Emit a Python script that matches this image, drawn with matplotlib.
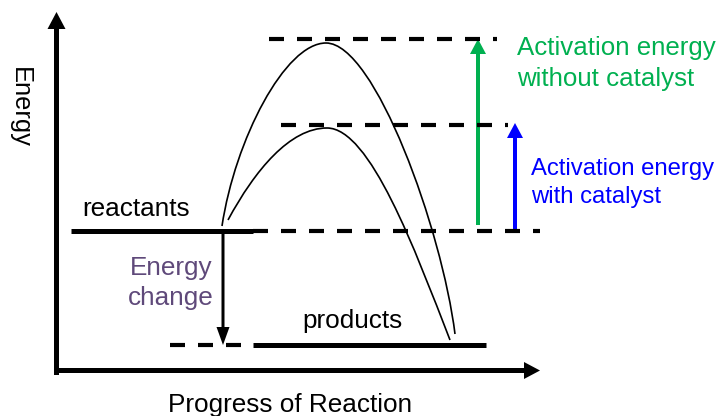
import matplotlib
matplotlib.use("Agg")
import matplotlib.pyplot as plt
from matplotlib.path import Path
from matplotlib.patches import PathPatch

# ---- data (schematic energy diagram; units = figure pixels, energy upward) ----
H = 416
reactant_level = H - 231       # energy of reactants
product_level = H - 345        # energy of products
peak_uncatalysed = H - 39      # top of uncatalysed barrier
peak_catalysed = H - 125       # top of catalysed barrier

reactant_x = [71, 253]
reactant_dash_x = [253, 540]
product_x = [253, 486]
product_dash_x = [170, 250]
peak_uncat_dash_x = [269, 497]
peak_cat_dash_x = [281, 508]

# reaction path control points (start, c1, c2, peak, c1, c2, end), (x, y-pixel)
uncat_x = [222, 235, 285, 326, 375, 442, 455]
uncat_y = [226, 140, 43, 43, 43, 230, 334]
cat_x = [228, 255, 290, 327, 370, 415, 450]
cat_y = [220, 170, 128, 128, 128, 250, 340]

labels = {
    "ylabel": "Energy",
    "xlabel": "Progress of Reaction",
    "reactants": "reactants",
    "products": "products",
    "change": ["Energy", "change"],
    "uncat": ["Activation energy", "without catalyst"],
    "cat": ["Activation energy", "with catalyst"],
}

GREEN = "#00B050"
BLUE = "#0000FF"
PURPLE = "#5F497A"
FONT = "Liberation Sans"

fig = plt.figure(figsize=(7.21, 4.16), dpi=100)
ax = fig.add_axes([0, 0, 1, 1])
ax.set_xlim(0, 721)
ax.set_ylim(0, H)
ax.axis("off")

def e(ypix):
    return H - ypix

# axes arrows
ax.arrow(56.5, e(375), 0, 375 - 12, width=5, head_width=18, head_length=17,
         length_includes_head=True, color="black", lw=0)
ax.arrow(54, e(370.5), 540 - 54, 0, width=5, head_width=17, head_length=16,
         length_includes_head=True, color="black", lw=0)

lw_thick = 3.6
lw_dash = 3.0
dash = (15 * 0.72 / lw_dash, 13 * 0.72 / lw_dash)

# energy levels
ax.plot(reactant_x, [reactant_level] * 2, color="black", lw=lw_thick, solid_capstyle="butt")
ax.plot(reactant_dash_x, [reactant_level] * 2, color="black", lw=lw_dash, dashes=dash,
        dash_capstyle="butt")
ax.plot(product_x, [product_level] * 2, color="black", lw=lw_thick, solid_capstyle="butt")
ax.plot(product_dash_x, [product_level] * 2, color="black", lw=lw_dash, dashes=dash,
        dash_capstyle="butt")
ax.plot(peak_uncat_dash_x, [peak_uncatalysed] * 2, color="black", lw=lw_dash, dashes=dash,
        dash_capstyle="butt")
ax.plot(peak_cat_dash_x, [peak_catalysed] * 2, color="black", lw=lw_dash, dashes=dash,
        dash_capstyle="butt")

# reaction paths as cubic Bezier curves
codes = [Path.MOVETO, Path.CURVE4, Path.CURVE4, Path.CURVE4,
         Path.CURVE4, Path.CURVE4, Path.CURVE4]
for xs, ys in [(uncat_x, uncat_y), (cat_x, cat_y)]:
    verts = [(x, e(y)) for x, y in zip(xs, ys)]
    ax.add_patch(PathPatch(Path(verts, codes), fill=False, lw=1.2, edgecolor="black"))

# energy change arrow
ax.arrow(223, reactant_level, 0, product_level - reactant_level, width=3,
         head_width=13, head_length=18, length_includes_head=True, color="black", lw=0)
# activation energy arrows
ax.arrow(478, e(225), 0, peak_uncatalysed - e(225), width=4, head_width=16,
         head_length=15, length_includes_head=True, color=GREEN, lw=0)
ax.arrow(515, reactant_level, 0, e(123) - reactant_level, width=4, head_width=16,
         head_length=15, length_includes_head=True, color=BLUE, lw=0)

# text
fs = 18.8
ax.text(20, e(107), labels["ylabel"], rotation=270, ha="center", va="center",
        fontsize=18.4, family=FONT)
ax.text(290.5, e(412), labels["xlabel"], ha="center", va="baseline", fontsize=fs, family=FONT)
ax.text(82, e(216), labels["reactants"], ha="left", va="baseline", fontsize=fs, family=FONT)
ax.text(352, e(328), labels["products"], ha="center", va="baseline", fontsize=fs, family=FONT)
for txt, yb in zip(labels["change"], [275, 305]):
    ax.text(171, e(yb), txt, ha="center", va="baseline", fontsize=fs, color=PURPLE, family=FONT)
for txt, yb in zip(labels["uncat"], [55, 86]):
    ax.text(517, e(yb), txt, ha="left", va="baseline", fontsize=18.6, color=GREEN, family=FONT)
for txt, yb in zip(labels["cat"], [175, 203]):
    ax.text(531, e(yb), txt, ha="left", va="baseline", fontsize=17.2, color=BLUE, family=FONT)

fig.savefig("out.png", dpi=100)
